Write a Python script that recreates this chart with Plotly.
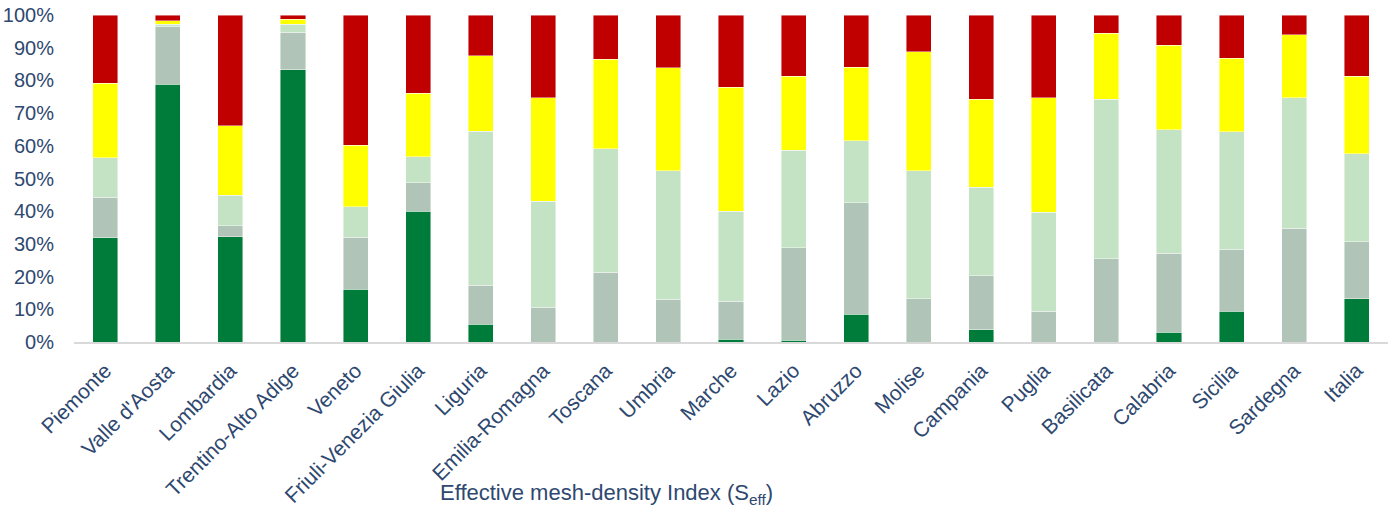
import plotly.graph_objects as go

regions = ["Piemonte", "Valle d'Aosta", "Lombardia", "Trentino-Alto Adige", "Veneto",
           "Friuli-Venezia Giulia", "Liguria", "Emilia-Romagna", "Toscana", "Umbria",
           "Marche", "Lazio", "Abruzzo", "Molise", "Campania", "Puglia", "Basilicata",
           "Calabria", "Sicilia", "Sardegna", "Italia"]

# shares (%) of each class, bottom to top
class1 = [31.9, 78.8, 32.2, 83.3, 16.2, 40.0, 5.4, 0.0, 0.0, 0.0, 0.8, 0.5, 8.5, 0.0, 3.8, 0.0, 0.0, 3.0, 9.4, 0.0, 13.3]
class2 = [12.4, 17.8, 3.4, 11.5, 15.8, 8.7, 11.9, 10.6, 21.3, 13.0, 11.6, 28.4, 34.1, 13.2, 16.5, 9.4, 25.5, 24.1, 18.9, 34.8, 17.4]
class3 = [12.1, 0.6, 9.3, 2.4, 9.3, 8.0, 47.2, 32.4, 37.8, 39.4, 27.6, 29.8, 18.9, 39.2, 27.0, 30.3, 48.7, 37.8, 36.0, 39.9, 26.9]
class4 = [22.7, 1.0, 21.3, 1.5, 18.9, 19.3, 23.0, 31.7, 27.3, 31.5, 37.9, 22.6, 22.5, 36.4, 26.9, 35.0, 20.2, 25.9, 22.4, 19.3, 23.7]
class5 = [20.9, 1.8, 33.8, 1.3, 39.8, 24.0, 12.5, 25.3, 13.6, 16.1, 22.1, 18.7, 16.0, 11.2, 25.8, 25.3, 5.6, 9.2, 13.3, 6.0, 18.7]

series = [class1, class2, class3, class4, class5]
colors = ["#007C3A", "#B0C4B8", "#C4E3C4", "#FFFF00", "#C00000"]

tick_vals = [0, 10, 20, 30, 40, 50, 60, 70, 80, 90, 100]
tick_text = [f"{v}%" for v in tick_vals]

text_color = "#2E4870"
font_family = "Liberation Sans, Arial, sans-serif"

fig = go.Figure()
for vals, col in zip(series, colors):
    fig.add_trace(go.Bar(
        x=regions, y=vals,
        marker=dict(color=col, line=dict(color="rgba(255,255,255,0.55)", width=0.8)),
        showlegend=False, hoverinfo="skip"))

fig.update_layout(
    barmode="stack",
    bargap=0.6,
    width=1391, height=508,
    margin=dict(l=74, r=3, t=15, b=166),
    paper_bgcolor="white", plot_bgcolor="white",
    font=dict(family=font_family, color=text_color, size=20),
    xaxis=dict(
        tickangle=-45, tickfont=dict(size=21, color=text_color),
        showline=True, linecolor="#D9D9D9", linewidth=2,
        showgrid=False, ticks="outside", ticklen=6, tickcolor="rgba(0,0,0,0)",
        automargin=False,
    ),
    yaxis=dict(
        range=[0, 100], tickvals=tick_vals, ticktext=tick_text,
        tickfont=dict(size=20, color=text_color),
        showgrid=False, zeroline=False, showline=False,
        ticks="outside", ticklen=15, tickcolor="rgba(0,0,0,0)",
        automargin=False,
    ),
    annotations=[dict(
        text="Effective mesh-density Index (S<sub>eff</sub>)",
        xref="paper", yref="paper", x=(606 - 74) / (1388 - 74), y=0,
        yshift=-152, showarrow=False, xanchor="center", yanchor="middle",
        font=dict(size=22, color=text_color, family=font_family),
    )],
)

fig.write_html("out.html", config={"displayModeBar": False},
               post_script="document.body.style.margin='0';document.body.style.overflow='hidden';")
